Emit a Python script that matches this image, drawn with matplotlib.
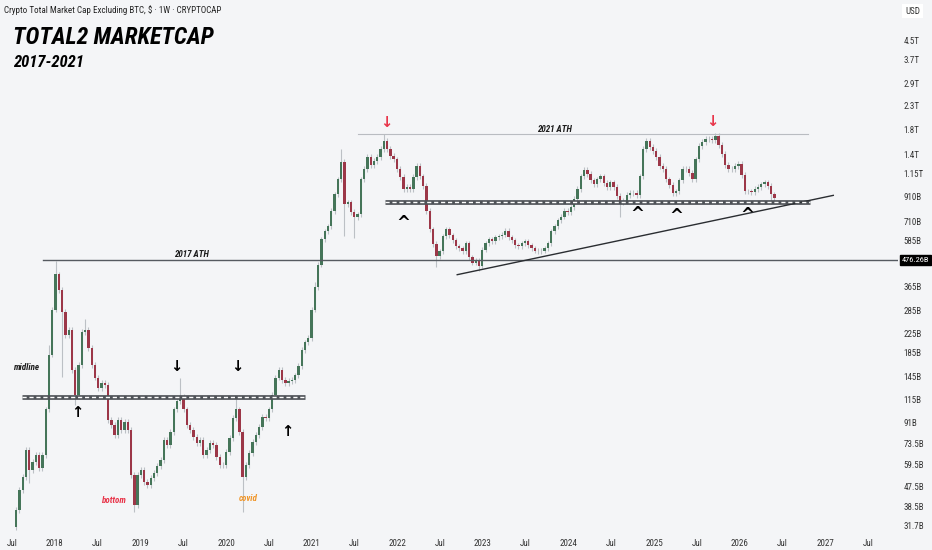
import numpy as np
import matplotlib
matplotlib.use('Agg')
import matplotlib.pyplot as plt
import matplotlib.dates as mdates
import matplotlib.transforms as mtransforms
from matplotlib import font_manager

# DATOS: cierre de cada vela (2 semanas), en miles de millones USD
closes = [37.4, 45.8, 52.3, 68.9, 56.2, 61.0, 65.5, 57.3, 65.5, 104,
          182, 288, 412, 353, 282, 223, 234, 156, 121, 164,
          230, 234, 195, 164, 144, 129, 136, 133, 93.5, 88.9,
          80.3, 93.5, 84.5, 91.7, 84.5, 53.3, 39.3, 53.3, 56.2, 49.7,
          48.2, 51.7, 54.5, 58.5, 62.2, 76.3, 72.5, 82.8, 104, 112.9,
          117.6, 104, 88.9, 84.5, 78.7, 74.0, 76.3, 65.5, 68.9, 74.0,
          72.5, 64.2, 59.1, 59.1, 67.5, 77.9, 95.5, 104, 82.8, 52.3,
          59.1, 66.8, 74.7, 80.3, 87.1, 96.5, 95.5, 104, 121, 144,
          156, 140, 136, 139, 140, 147, 162.5, 191, 206, 216,
          288, 361, 456, 589, 639, 672, 784, 932, 1086, 1293,
          842, 859, 776, 737, 760, 1086, 1203, 1361, 1254, 1306,
          1361, 1476, 1603, 1476, 1375, 1332, 1203, 1109, 981, 1002,
          981, 1109, 1241, 1120, 1012, 784, 652, 560, 495, 521,
          607, 652, 613, 583, 548, 537, 521, 565, 490, 465,
          475, 451, 531, 565, 589, 577, 601, 607, 619, 645,
          601, 583, 554, 548, 565, 577, 554, 537, 526, 521,
          526, 537, 565, 639, 672, 715, 744, 784, 776, 816,
          886, 981, 1120, 1191, 1144, 1075, 1032, 1086, 1120, 1043,
          1002, 1053, 1002, 914, 859, 868, 923, 942, 942, 923,
          1120, 1476, 1603, 1507, 1446, 1361, 1241, 1203, 1086, 1022,
          942, 961, 1075, 1203, 1203, 1155, 1086, 1332, 1523, 1587,
          1636, 1636, 1619, 1686, 1538, 1403, 1254, 1203, 1203, 1241,
          1267, 1132, 961, 961, 952, 981, 1002, 1032, 1053, 1012,
          932, 895]
first_open = 31.5
start_date = '2017-07-20'

# mechas largas visibles (indice de vela: valor)
wick_high = {10: 200, 12: 472, 21: 262, 50: 143, 67: 117, 91: 380,
             99: 1480, 112: 1720, 192: 1650, 213: 1740}
wick_low = {0: 30.5, 4: 49, 14: 145, 18: 109, 36: 36.6, 69: 36.6,
            100: 610, 103: 600, 128: 443, 141: 425, 184: 737, 230: 842}

price_ticks = [31.7, 38.5, 47.5, 59.5, 73.5, 91, 115, 145, 185, 225, 285, 365,
               585, 710, 910, 1150, 1400, 1800, 2300, 2900, 3700, 4500]
price_labels = ['31.7B', '38.5B', '47.5B', '59.5B', '73.5B', '91B', '115B',
                '145B', '185B', '225B', '285B', '365B', '585B', '710B', '910B',
                '1.15T', '1.4T', '1.8T', '2.3T', '2.9T', '3.7T', '4.5T']
time_ticks = ['2017-07-01', '2018-01-01', '2018-07-01', '2019-01-01', '2019-07-01',
              '2020-01-01', '2020-07-01', '2021-01-01', '2021-07-01', '2022-01-01',
              '2022-07-01', '2023-01-01', '2023-07-01', '2024-01-01', '2024-07-01',
              '2025-01-01', '2025-07-01', '2026-01-01', '2026-07-01', '2027-01-01',
              '2027-07-01']
time_labels = ['Jul', '2018', 'Jul', '2019', 'Jul', '2020', 'Jul', '2021', 'Jul',
               '2022', 'Jul', '2023', 'Jul', '2024', 'Jul', '2025', 'Jul', '2026',
               'Jul', '2027', 'Jul']

ath_2017 = 476.26
ath_2021 = 1720
midline = 118
support = 860
trend = (('2022-09-13', 411), ('2027-02-03', 923))

# PROCEDIMIENTO
def d(s):
    return mdates.date2num(np.datetime64(s))

n = len(closes)
x = mdates.date2num(np.datetime64(start_date) + np.arange(n) * np.timedelta64(14, 'D'))
c = np.array(closes, dtype=float)
o = np.array([first_open] + closes[:-1], dtype=float)
top = np.maximum(o, c)
bot = np.minimum(o, c)
hi = np.array([wick_high.get(i, top[i] * 1.03) for i in range(n)])
lo = np.array([wick_low.get(i, bot[i] / 1.03) for i in range(n)])

bg = '#f4f5f7'
verde = '#457559'
rojo = '#9c3748'
txt = '#1c1c1c'

# fuente estrecha si existe
nombres = {f.name for f in font_manager.fontManager.ttflist}
estrecha = None
for cand in ['Liberation Sans Narrow', 'DejaVu Sans Condensed', 'Roboto Condensed', 'Open Sans Condensed']:
    if cand in nombres:
        estrecha = cand
        break
cond = [f for f in font_manager.fontManager.ttflist
        if f.name == 'DejaVu Sans' and f.stretch not in ('normal', 400)]
if estrecha is None:
    estrecha = 'DejaVu Sans'
fam = [estrecha, 'DejaVu Sans']
stretch = 'condensed' if (estrecha == 'DejaVu Sans' and cond) else 'normal'

fig = plt.figure(figsize=(9.32, 5.5), dpi=100, facecolor=bg)
ax = fig.add_axes([0, 14 / 550, 898 / 932, 536 / 550], facecolor=bg)
ax.set_yscale('log')

ax.vlines(x, lo * 1e9, hi * 1e9, color='#bcc0c5', lw=0.8, zorder=2)
colores = [verde if c[i] >= o[i] else rojo for i in range(n)]
ax.bar(x, (top - bot) * 1e9, bottom=bot * 1e9, width=10, color=colores,
       lw=0, zorder=3)

# lineas
ax.plot([d('2017-11-10'), d('2028-06-01')], [ath_2017 * 1e9] * 2, color='#555a60', lw=1.0, zorder=4)
ax.plot([d('2021-07-17'), d('2026-10-19')], [ath_2021 * 1e9] * 2, color='#b9bcc1', lw=0.8, zorder=4)
for d0, d1, v in [('2017-08-13', '2020-12-01', midline), ('2021-11-09', '2026-10-27', support)]:
    ax.plot([d(d0), d(d1)], [v * 1e9] * 2, color='#4e5257', lw=3.4, solid_capstyle='butt', zorder=5)
    ax.plot([d(d0), d(d1)], [v * 1e9] * 2, color='white', lw=1.0, dashes=(3, 2), zorder=6)
ax.plot([d(trend[0][0]), d(trend[1][0])], [trend[0][1] * 1e9, trend[1][1] * 1e9],
        color='#2a2d31', lw=1.0, zorder=5)

# textos
lab = dict(fontsize=6.5, fontweight='bold', fontstyle='italic', family=fam, fontstretch=stretch)
ax.text(d('2019-08-07'), ath_2017 * 1.01e9, '2017 ATH', ha='center', va='bottom', color=txt, **lab)
ax.text(d('2023-11-03'), ath_2021 * 1.005e9, '2021 ATH', ha='center', va='bottom', color=txt, **lab)
ax.text(d('2017-07-05'), 159e9, 'midline', ha='left', va='center', color=txt, **lab)
ax.text(d('2018-09-08'), 41e9, 'bottom', ha='center', va='center', color='#e8354a', **lab)
ax.text(d('2020-04-04'), 42e9, 'covid', ha='center', va='center', color='#f0962a', **lab)

flecha = dict(fontsize=10.5, fontweight='bold', ha='center', va='center', family='DejaVu Sans', zorder=7)
ax.text(d('2018-04-05'), 101e9, '↑', color='black', **flecha)
ax.text(d('2020-09-17'), 82.7e9, '↑', color='black', **flecha)
ax.text(d('2019-06-01'), 161e9, '↓', color='black', **flecha)
ax.text(d('2020-02-17'), 161e9, '↓', color='black', **flecha)
ax.text(d('2021-11-14'), 1950e9, '↓', color='#e8354a', **flecha)
ax.text(d('2025-09-05'), 1970e9, '↓', color='#e8354a', **flecha)
for fecha, v in [('2022-01-26', 745), ('2024-10-22', 823), ('2025-04-04', 807), ('2026-02-01', 815)]:
    ax.text(d(fecha), v * 0.93e9, '^', color='black', fontsize=12, fontweight='bold',
            ha='center', va='center', family='DejaVu Sans', zorder=7)

# ejes
ax.set_xlim(d('2017-05-12'), d('2027-11-06'))
ax.set_ylim(28.6e9, 6.77e12)
ax.yaxis.tick_right()
ax.set_yticks([v * 1e9 for v in price_ticks])
ax.set_yticklabels(price_labels)
ax.yaxis.set_minor_locator(matplotlib.ticker.NullLocator())
ax.set_xticks([d(t) for t in time_ticks])
ax.set_xticklabels(time_labels)
ax.tick_params(axis='y', length=0, labelsize=6.5, labelcolor='#333333', pad=4)
ax.tick_params(axis='x', length=0, labelsize=6.5, labelcolor='#333333', pad=2)
for t in ax.get_xticklabels() + ax.get_yticklabels():
    t.set_family(fam)
    t.set_fontstretch(stretch)
for s in ax.spines.values():
    s.set_visible(False)

tr = mtransforms.blended_transform_factory(ax.transAxes, ax.transData)
ax.text(1.004, ath_2017 * 1e9, '476.26B', transform=tr, ha='left', va='center',
        color='white', fontsize=6, family=fam, fontstretch=stretch,
        bbox=dict(boxstyle='square,pad=0.25', fc='black', ec='black'), clip_on=False)

fig.text(4 / 932, 1 - 10 / 550, 'Crypto Total Market Cap Excluding BTC, $ · 1W · CRYPTOCAP',
         fontsize=6.5, color='#222222', va='center', ha='left', family=fam, fontstretch=stretch)
fig.text(905 / 932, 1 - 11 / 550, 'USD', fontsize=6.5, color='#333333', va='center', ha='left',
         family=fam, fontstretch=stretch, bbox=dict(boxstyle='square,pad=0.3', fc='white', ec='none'))
fig.text(13 / 932, 1 - 38 / 550, 'TOTAL2 MARKETCAP', fontsize=17, fontstyle='italic',
         fontweight='semibold', color='black', va='center', ha='left', family=fam, fontstretch=stretch)
fig.text(13 / 932, 1 - 62 / 550, '2017-2021', fontsize=12, fontstyle='italic',
         fontweight='semibold', color='black', va='center', ha='left', family=fam, fontstretch=stretch)

fig.savefig('out.png', dpi=100, facecolor=bg)
